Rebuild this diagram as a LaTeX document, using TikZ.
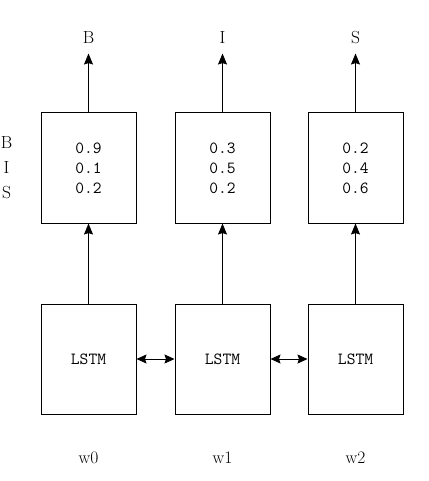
\documentclass[tikz,border=0pt]{standalone}
\usepackage{fontspec}
\usetikzlibrary{positioning, arrows.meta}

\newcommand{\monolabel}{\fontsize{17}{20}\selectfont\ttfamily}
\newcommand{\romlabel}{\fontsize{17.5}{25}\selectfont\rmfamily}

\begin{document}
\begin{tikzpicture}[
  x=1pt, y=-1pt,
  cell/.style={draw, line width=1pt, minimum width=95pt, minimum height=110pt,
               inner sep=0pt, align=center, font=\monolabel},
  tag/.style={inner sep=0pt, align=center, font=\romlabel},
  arr/.style={-{Stealth[length=11pt, width=9pt, inset=1.5pt]}, line width=0.8pt},
  darr/.style={{Stealth[length=10pt, width=9pt, inset=1.5pt]}-{Stealth[length=10pt, width=9pt, inset=1.5pt]},
               line width=0.8pt}
]
  \useasboundingbox (0,0) rectangle (428,481);

  % lstm row
  \node[cell] (lstm1) at (88.5,359) {LSTM};
  \node[cell, right=38pt of lstm1] (lstm2) {LSTM};
  \node[cell, right=37pt of lstm2] (lstm3) {LSTM};

  % tag scores
  \node[cell, above=80pt of lstm1] (prob1) {0.9\\0.1\\0.2};
  \node[cell, above=80pt of lstm2] (prob2) {0.3\\0.5\\0.2};
  \node[cell, above=80pt of lstm3] (prob3) {0.2\\0.4\\0.6};

  \node[tag, left=28pt of prob1] (tagset) {B\\I\\S};

  % outputs and inputs
  \node[tag, anchor=south, above=69pt of prob1] (out1) {B};
  \node[tag, anchor=south, above=69pt of prob2] (out2) {I};
  \node[tag, anchor=south, above=69pt of prob3] (out3) {S};

  \node[tag, below=37pt of lstm1] (word1) {w0};
  \node[tag, below=37pt of lstm2] (word2) {w1};
  \node[tag, below=37pt of lstm3] (word3) {w2};

  \foreach \i in {1,2,3} {
    \draw[arr] (lstm\i) -- (prob\i);
    \draw[arr, shorten >=10pt] (prob\i) -- (out\i);
  }
  \draw[darr] (lstm1) -- (lstm2);
  \draw[darr] (lstm2) -- (lstm3);
\end{tikzpicture}
\end{document}
